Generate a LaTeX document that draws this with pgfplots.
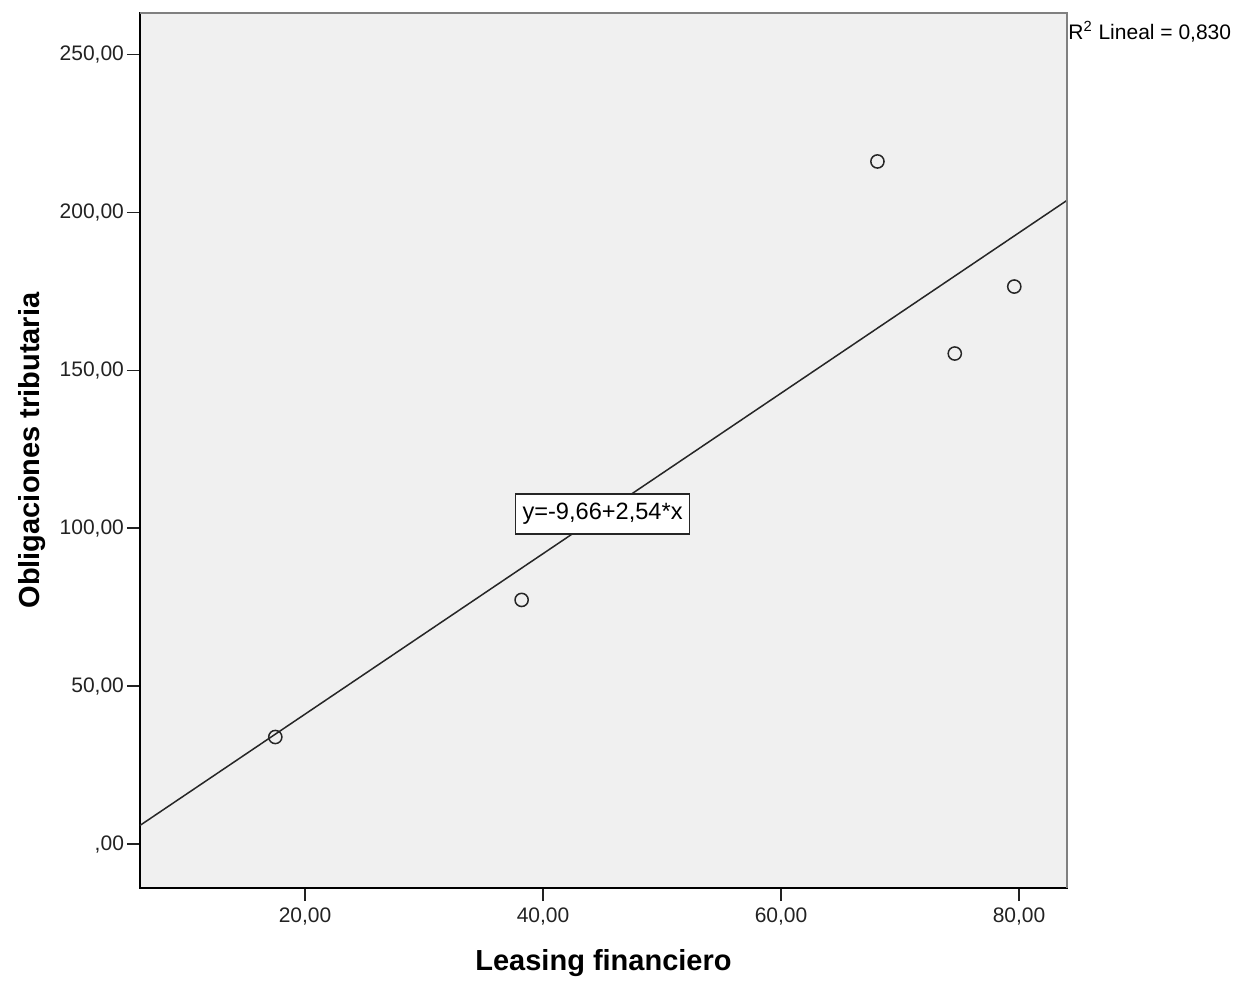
\documentclass[border=0pt]{standalone}
\usepackage{pgfplots}
\pgfplotsset{compat=1.18}
\usepackage{fontspec}
\setmainfont{Liberation Sans}
\definecolor{plotbg}{HTML}{F0F0F0}
\definecolor{framegray}{HTML}{808080}
\definecolor{ticktext}{HTML}{222222}
\begin{document}
\begin{tikzpicture}
\path[use as bounding box] (-70pt,-46.5pt) rectangle (556.5pt,444pt);
\begin{axis}[
    scale only axis,
    width=463.5pt, height=437.5pt,
    xmin=6.13, xmax=84.03,
    ymin=-13.9, ymax=263.1,
    axis background/.style={fill=plotbg},
    axis line style={black, line width=0.75pt},
    tick align=outside,
    xtick pos=bottom, ytick pos=left,
    major tick length=6.5pt,
    tick style={ticktext, line width=0.75pt},
    xtick={20,40,60,80},
    xticklabels={{20,00},{40,00},{60,00},{80,00}},
    ytick={0,50,100,150,200,250},
    yticklabels={{,00},{50,00},{100,00},{150,00},{200,00},{250,00}},
    every tick label/.append style={font=\fontsize{10.5}{12}\selectfont, text=ticktext},
    yticklabel style={xshift=2pt},
    xlabel={Leasing financiero},
    ylabel={Obligaciones tributaria},
    label style={font=\fontsize{14.5}{16}\selectfont\bfseries},
    xlabel style={at={(axis description cs:0.5,0)}, anchor=center, yshift=-37.5pt},
    ylabel style={at={(axis description cs:0,0.5)}, anchor=center, rotate=0, yshift=54pt},
    clip=false,
]
% recta de regresion y = -9,66 + 2,54 x
\addplot[color=black!85, line width=0.75pt] coordinates {(6.13,5.91) (84.03,203.78)};
% observaciones
\addplot[only marks, mark=o, mark size=3.3pt, mark options={line width=0.75pt, black!85}] coordinates {
    (17.5,33.9) (38.2,77.3) (68.1,216.1) (74.6,155.3) (79.6,176.5)
};
\draw[framegray, line width=0.9pt] (rel axis cs:0,1) -- (rel axis cs:1,1) -- (rel axis cs:1,0);
\node[draw=black!85, fill=white, line width=0.7pt, minimum width=87pt, minimum height=20pt, inner sep=1pt,
      font=\fontsize{11.8}{13}\selectfont] at (axis cs:45.0,104.5) {y=-9,66+2,54*x};
\node[anchor=west, inner sep=0pt, font=\fontsize{10.5}{12}\selectfont, xshift=0.5pt, yshift=-9.5pt]
      at (rel axis cs:1,1) {R\textsuperscript{2} Lineal = 0,830};
\end{axis}
\end{tikzpicture}
\end{document}
